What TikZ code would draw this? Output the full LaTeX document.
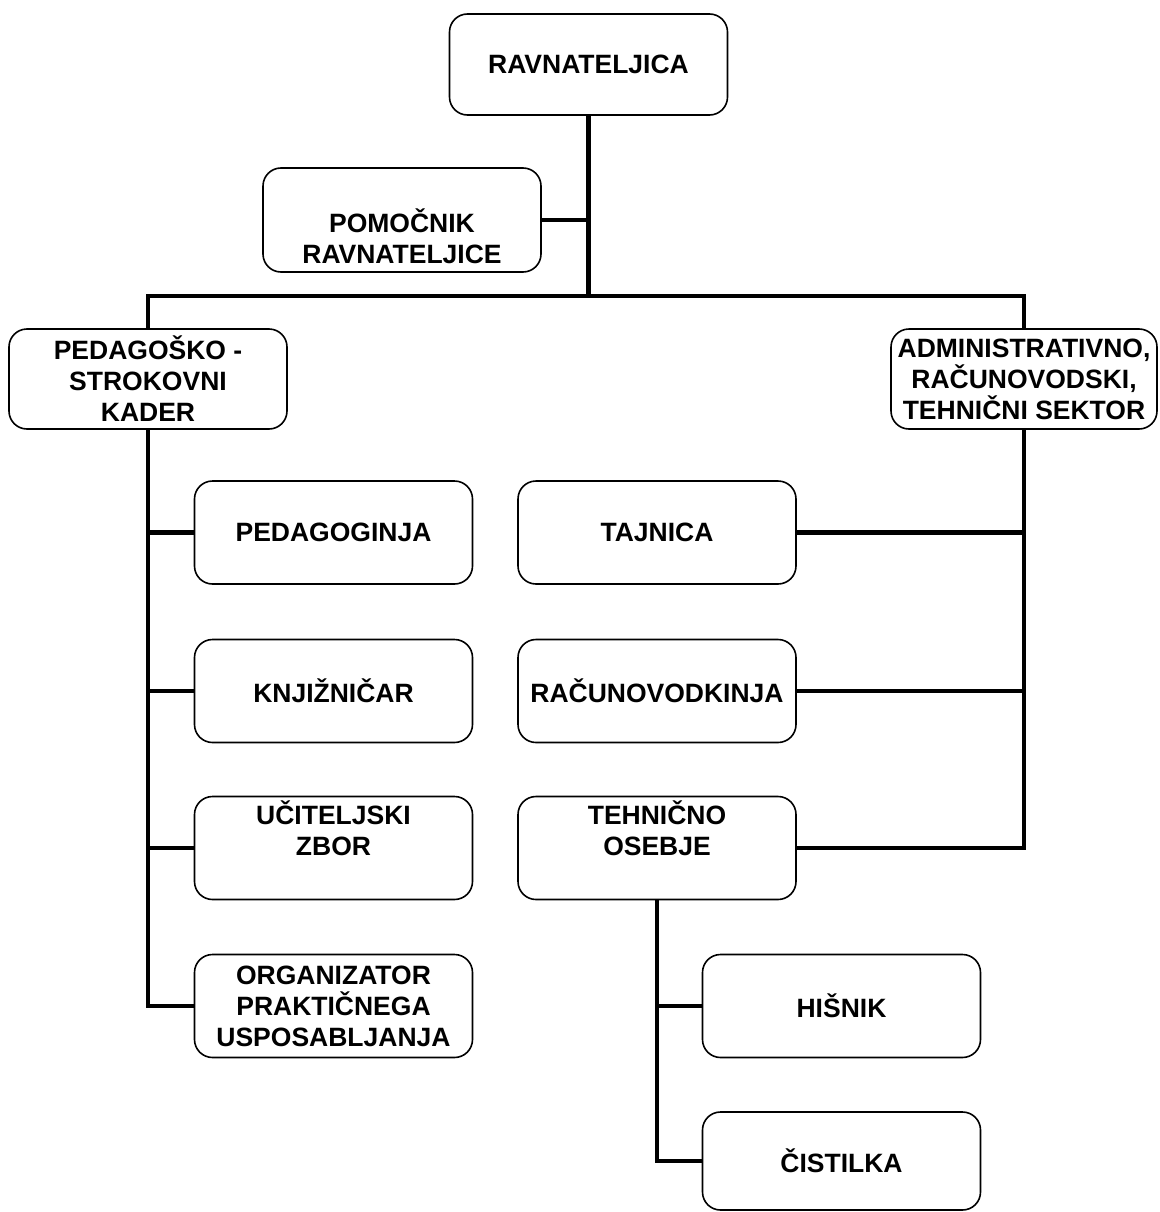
\documentclass[tikz,border=0pt]{standalone}
\usepackage{fontspec}
\setmainfont{Liberation Sans}
\begin{document}
\begin{tikzpicture}[x=1pt,y=-1pt,
    box/.style={draw, line width=1.6pt, rounded corners=18pt, fill=white,
        align=center, inner sep=1pt, minimum width=278pt, minimum height=103pt,
        font=\bfseries\fontsize{26.5}{31}\selectfont},
    conn/.style={line width=4.8pt}]

    \useasboundingbox (0,0) rectangle (1159,1212);

    % top
    \node[box, minimum height=101pt] (ravn) at (588.5,64.5) {RAVNATELJICA};
    \node[box, minimum height=104pt] (pomoc) at (402,220) {\strut\\POMOČNIK\\RAVNATELJICE};

    % sectors
    \node[box, minimum height=100pt] (pedkader) at (148,379) {PEDAGOŠKO -\\STROKOVNI\\KADER};
    \node[box, minimum width=266pt, minimum height=100pt] (admin) at (1024,379) {ADMINISTRATIVNO,\\RAČUNOVODSKI,\\TEHNIČNI SEKTOR};

    % left column
    \node[box] (pedag) at (333.5,532.5) {PEDAGOGINJA};
    \node[box] (knjiz) at (333.5,691) {KNJIŽNIČAR};
    \node[box] (ucit) at (333.5,848) {UČITELJSKI\\ZBOR\\\strut};
    \node[box] (organ) at (333.5,1006) {ORGANIZATOR\\PRAKTIČNEGA\\USPOSABLJANJA};

    % middle column
    \node[box] (tajn) at (657,532.5) {TAJNICA};
    \node[box] (racun) at (657,691) {RAČUNOVODKINJA};
    \node[box] (tehn) at (657,848) {TEHNIČNO\\OSEBJE\\\strut};

    \node[box] (hisnik) at (841.5,1006) {HIŠNIK};
    \node[box, minimum height=98pt] (cist) at (841.5,1161) {ČISTILKA};

    % connectors
    \coordinate (busL) at (148,296);
    \coordinate (busR) at (1024,296);
    \draw[conn] (pedkader.north) -- (busL) -- (busR) -- (admin.north);
    \draw[conn] (ravn.south) -- (ravn.south |- busL);
    \draw[conn] (pomoc.east) -- (pomoc.east -| ravn.south);

    \draw[conn] (pedkader.south) |- (organ.west);
    \foreach \n in {pedag,knjiz,ucit}
        \draw[conn] (pedkader.south |- \n.west) -- (\n.west);

    \draw[conn] (admin.south) |- (tehn.east);
    \foreach \n in {tajn,racun}
        \draw[conn] (\n.east) -- (\n.east -| admin.south);

    \draw[conn] (tehn.south) |- (cist.west);
    \draw[conn] (tehn.south |- hisnik.west) -- (hisnik.west);
\end{tikzpicture}
\end{document}
